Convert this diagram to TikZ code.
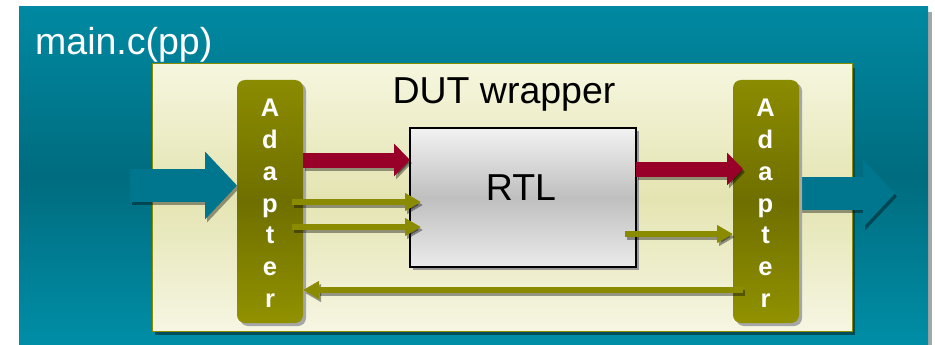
\documentclass[tikz,border=0pt]{standalone}
\usepackage{fontspec}
\setmainfont{Liberation Sans}
\usetikzlibrary{arrows.meta,calc,shadows}
\definecolor{tealTop}{HTML}{0089A2}
\definecolor{tealMid}{HTML}{006C7F}
\definecolor{tealBot}{HTML}{008EA7}
\definecolor{tealArrow}{HTML}{00768E}
\definecolor{tealShadow}{HTML}{004E5C}
\definecolor{creamTop}{HTML}{F6F6DF}
\definecolor{creamMid}{HTML}{E4E4B2}
\definecolor{creamBot}{HTML}{F6F6E3}
\definecolor{oliveTop}{HTML}{8B8B00}
\definecolor{oliveMid}{HTML}{6F6F00}
\definecolor{oliveBot}{HTML}{919100}
\definecolor{olive}{HTML}{8B8B00}
\definecolor{crimson}{HTML}{990029}
\definecolor{rtlTop}{HTML}{F2F2F2}
\definecolor{rtlMid}{HTML}{BFBFBF}
\definecolor{rtlBot}{HTML}{EBEBEB}
\pgfdeclarelayer{back}
\pgfsetlayers{back,main}
\begin{document}
\begin{tikzpicture}[x=1pt,y=-1pt,
  box/.style={anchor=north west,inner sep=0pt,outer sep=0pt},
  outerbox/.style={box,top color=tealTop,bottom color=tealBot,middle color=tealMid,
    drop shadow={shadow xshift=4pt,shadow yshift=-5pt,fill=black!35,opacity=1}},
  wrapbox/.style={box,draw=olive,line width=1pt,top color=creamTop,bottom color=creamBot,middle color=creamMid,
    drop shadow={shadow xshift=3pt,shadow yshift=-4pt,fill=tealShadow,opacity=1}},
  adapterbox/.style={box,rounded corners=8pt,top color=oliveTop,bottom color=oliveBot,middle color=oliveMid,
    minimum width=66pt,minimum height=243pt,
    drop shadow={shadow xshift=3pt,shadow yshift=-3pt,fill=black!35,opacity=1}},
  rtlbox/.style={box,draw=black,line width=1.3pt,top color=rtlTop,bottom color=rtlBot,middle color=rtlMid,
    drop shadow={shadow xshift=3pt,shadow yshift=-3pt,fill=black!40,opacity=1}},
  bigtext/.style={inner sep=0pt,font=\fontsize{37.5}{42}\selectfont},
  letter/.style={inner sep=0pt,anchor=base,text=white,font=\fontsize{25.5}{28}\selectfont\bfseries},
  sh/.style={draw=black,opacity=0.38,transform canvas={xshift=2pt,yshift=-3pt}},
  tealarrow/.style={draw=tealArrow,line width=33pt,-{Triangle[width=66pt,length=32pt]}},
  redarrow/.style={draw=crimson,line width=15pt,-{Triangle[width=32pt,length=16pt]}},
  olivearrow/.style={draw=olive,line width=6pt,-{Triangle[width=17pt,length=16pt]}}
]
\begin{pgfonlayer}{back}
\useasboundingbox (0,0) rectangle (935,345);
\fill[white] (0,0) rectangle (935,345);
% outer box
\node[outerbox,minimum width=909pt,minimum height=338pt] (main) at (19,7) {};
% wrapper
\node[wrapbox,minimum width=700pt,minimum height=267pt] (wrap) at (152,64) {};
\end{pgfonlayer}

\node[bigtext,anchor=base west,text=white] (mainlabel) at (35,55) {main.c(pp)};
\node[bigtext,anchor=base] (wraplabel) at (504,103) {DUT wrapper};

% coordinates for arrow rows
\coordinate (inL) at (130,185.5);
\coordinate (outR) at (895,193.5);
\coordinate (rowA) at (0,160);
\coordinate (rowB) at (0,169);
\coordinate (rowC) at (0,202);
\coordinate (rowD) at (0,227);
\coordinate (rowE) at (0,234);
\coordinate (rowF) at (0,290);

% adapters
\node[adapterbox] (adL) at (237,80) {};
\node[adapterbox] (adR) at (733,80) {};

% teal arrows (behind the adapters)
\begin{pgfonlayer}{back}
\draw[tealarrow,sh] (inL) -- (adL.west |- inL);
\draw[tealarrow] (inL) -- (adL.west |- inL);
\draw[tealarrow,sh] ($(adR.east |- outR)+(-4,0)$) -- (outR);
\draw[tealarrow] ($(adR.east |- outR)+(-4,0)$) -- (outR);
\end{pgfonlayer}

% letters
\foreach \ch [count=\i from 0] in {A,d,a,p,t,e,r}{
  \node[letter] (lL\i) at (270,117+31.7*\i) {\ch};
  \node[letter] (lR\i) at (765.5,117+31.7*\i) {\ch};
}

% RTL
\node[rtlbox,minimum width=226pt,minimum height=139pt] (rtl) at (410,128) {};
\node[bigtext,anchor=base] (rtllabel) at (521,200) {RTL};

% red arrows
\draw[redarrow,sh] (adL.east |- rowA) -- (rtl.west |- rowA);
\draw[redarrow] (adL.east |- rowA) -- (rtl.west |- rowA);
\draw[redarrow,sh] (rtl.east |- rowB) -- ($(adR.west |- rowB)+(10,0)$);
\draw[redarrow] (rtl.east |- rowB) -- ($(adR.west |- rowB)+(10,0)$);

% olive arrows
\draw[olivearrow,sh] ($(adL.east |- rowC)+(-11,0)$) -- ($(rtl.west |- rowC)+(11,0)$);
\draw[olivearrow] ($(adL.east |- rowC)+(-11,0)$) -- ($(rtl.west |- rowC)+(11,0)$);
\draw[olivearrow,sh] ($(adL.east |- rowD)+(-11,0)$) -- ($(rtl.west |- rowD)+(11,0)$);
\draw[olivearrow] ($(adL.east |- rowD)+(-11,0)$) -- ($(rtl.west |- rowD)+(11,0)$);
\draw[olivearrow,sh] ($(rtl.east |- rowE)+(-11,0)$) -- (adR.west |- rowE);
\draw[olivearrow] ($(rtl.east |- rowE)+(-11,0)$) -- (adR.west |- rowE);
\draw[olivearrow,sh] ($(adR.west |- rowF)+(10,0)$) -- (adL.east |- rowF);
\draw[olivearrow] ($(adR.west |- rowF)+(10,0)$) -- (adL.east |- rowF);
\end{tikzpicture}
\end{document}
